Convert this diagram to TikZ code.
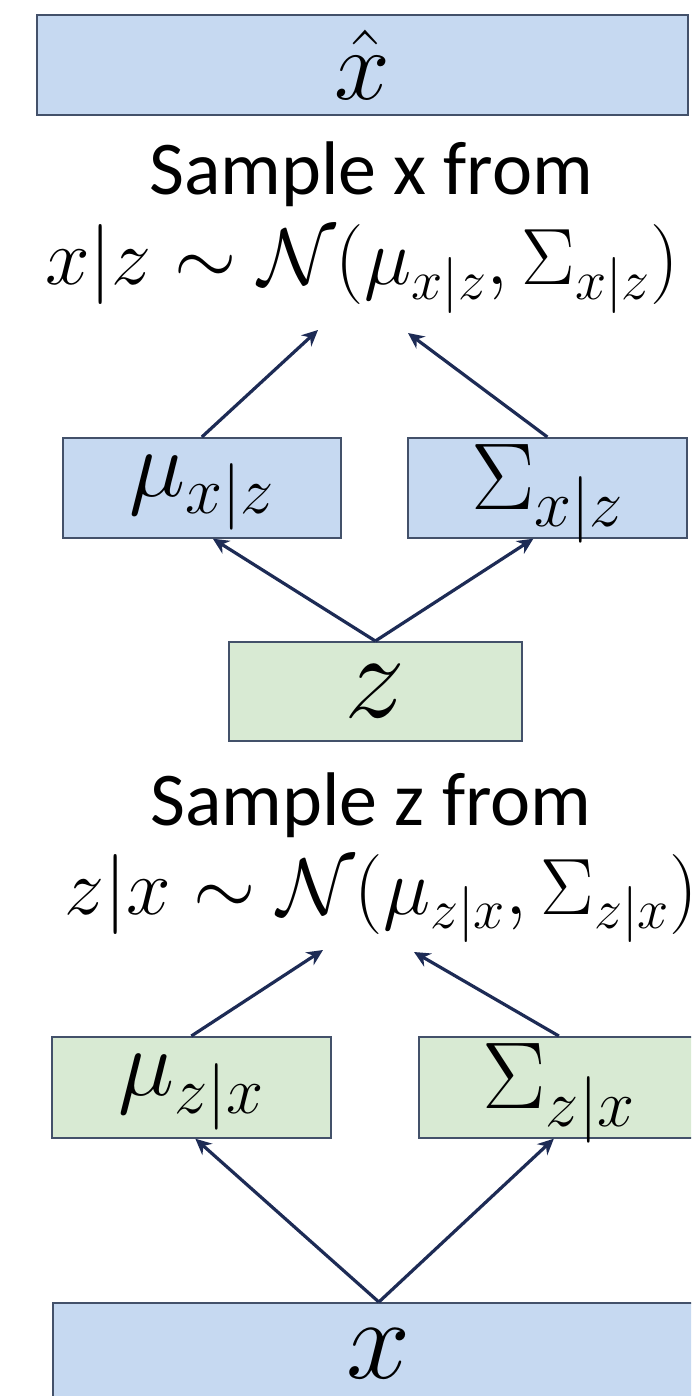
\RequirePackage{fix-cm}
\documentclass[tikz,border=0pt]{standalone}
\usepackage{fontspec}
\newfontfamily\calfont{Carlito}
\usetikzlibrary{arrows.meta}
\definecolor{boxblue}{HTML}{C6D9F1}
\definecolor{boxgreen}{HTML}{D8EAD3}
\definecolor{boxline}{HTML}{43516A}
\definecolor{arrowc}{HTML}{1D2B55}
\tikzset{
  bbox/.style={draw=boxline, line width=1.7pt, fill=boxblue, anchor=north west,
    inner sep=0pt, font=\fontsize{95}{100}\selectfont},
  gbox/.style={bbox, fill=boxgreen},
  mubox/.style={text height=43pt, text depth=26pt},
  sgbox/.style={text height=67pt, text depth=24pt},
  arr/.style={draw=arrowc, line width=3.2pt, -{Stealth[length=16pt,width=15pt]}},
  lbl/.style={inner sep=0pt, font=\calfont\fontsize{76}{80}\selectfont},
  frm/.style={inner sep=0pt, font=\fontsize{80}{90}\selectfont},
}
\begin{document}
\begin{tikzpicture}[x=1pt,y=-1pt]
\useasboundingbox (0,0) rectangle (691,1396);
\clip (0,0) rectangle (691,1396);
\fill[white] (0,0) rectangle (691,1396);
% top
\node[bbox, minimum width=651pt, minimum height=100pt, font=\fontsize{100}{105}\selectfont] (xhat) at (36,14) {$\hat{x}$};
\node[lbl, anchor=base] (samx) at (371,195) {Sample x from};
\node[frm, anchor=base west] (fx) at (45,285) {$x|z \sim \mathcal{N}(\mu_{x|z}, \Sigma_{x|z})$};
\coordinate (t1) at (318,330);
\coordinate (t2) at (408,333);
\node[bbox, mubox, minimum width=278pt, minimum height=100pt] (muxz) at (62,437) {$\mu_{x|z}$};
\node[bbox, sgbox, minimum width=279pt, minimum height=100pt] (sxz) at (407,437) {$\Sigma_{x|z}$};
\node[gbox, minimum width=293pt, minimum height=99pt, font=\fontsize{122}{125}\selectfont] (z) at (228,641) {$z$};
% bottom
\node[lbl, anchor=base] (samz) at (371,825) {Sample z from};
\node[frm, anchor=base west] (fz) at (64,914) {$z|x \sim \mathcal{N}(\mu_{z|x}, \Sigma_{z|x})$};
\coordinate (t3) at (323,950);
\coordinate (t4) at (414,952);
\node[gbox, mubox, minimum width=279pt, minimum height=101pt] (muzx) at (51,1036) {$\mu_{z|x}$};
\node[gbox, sgbox, minimum width=280pt, minimum height=101pt] (szx) at (418,1036) {$\Sigma_{z|x}$};
\node[bbox, minimum width=652pt, minimum height=130pt] (x) at (52,1302) {};
\node[inner sep=0pt, anchor=base, font=\fontsize{115}{120}\selectfont] (xl) at (378,1378) {$x$};
% arrows
\draw[arr] (muxz.north) -- (t1);
\draw[arr] (sxz.north) -- (t2);
\draw[arr] (z.north) -- ([xshift=11pt]muxz.south);
\draw[arr] (z.north) -- ([xshift=-14pt]sxz.south);
\draw[arr] (muzx.north) -- (t3);
\draw[arr] (szx.north) -- (t4);
\draw[arr] (x.north) -- ([xshift=4pt]muzx.south);
\draw[arr] (x.north) -- ([xshift=-5pt]szx.south);
\end{tikzpicture}
\end{document}
